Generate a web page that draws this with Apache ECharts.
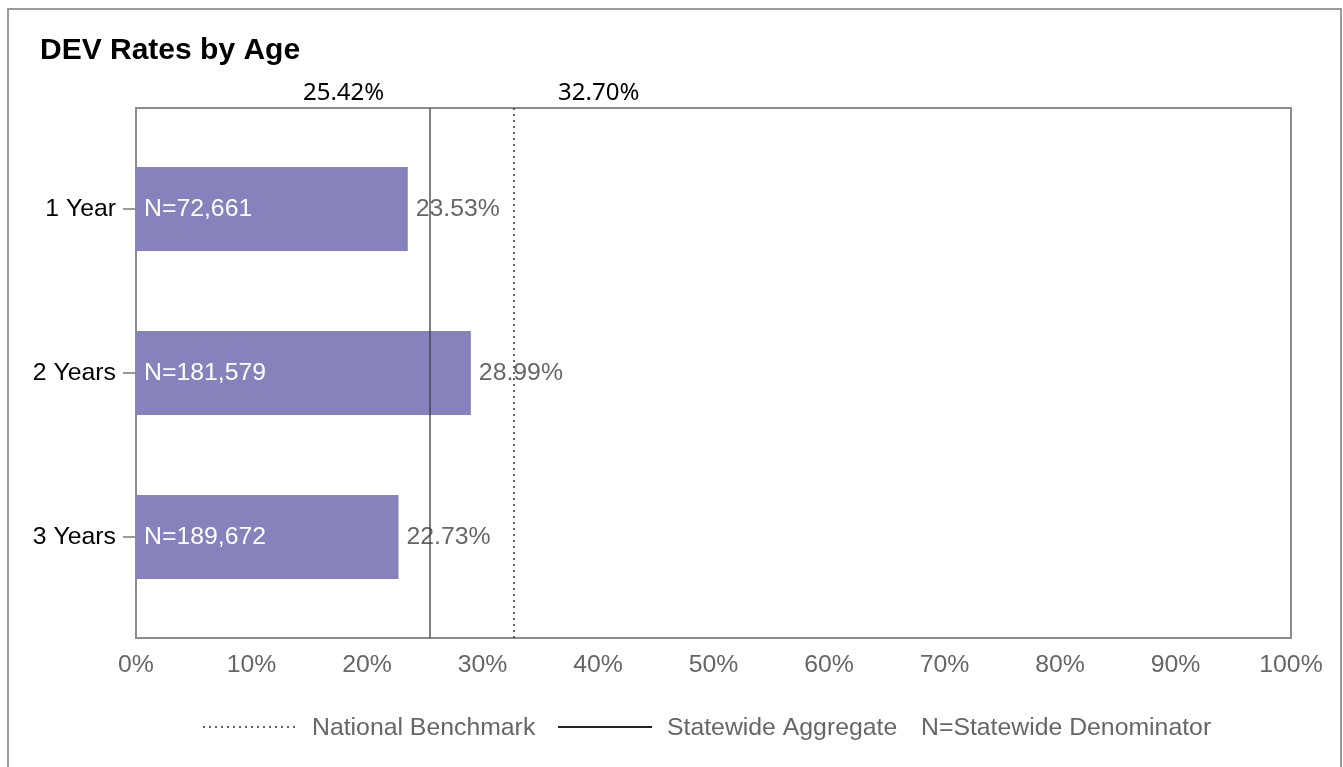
<!DOCTYPE html>
<html>
<head>
<meta charset="utf-8">
<script src="https://cdn.jsdelivr.net/npm/echarts@6/dist/echarts.min.js"></script>
<style>
html,body{margin:0;padding:0;background:#fff;}
#chart{width:1343px;height:767px;}
</style>
</head>
<body>
<div id="chart"></div>
<script>
const categories = ['1 Year', '2 Years', '3 Years'];
const rates = [23.53, 28.99, 22.73];
const denominators = [72661, 181579, 189672];
const statewideAggregate = 25.42;
const nationalBenchmark = 32.70;
const xMin = 0, xMax = 100, xStep = 10;

const SANS = '"Liberation Sans", Arial, sans-serif';
const NOTO = '"Noto Sans", "Open Sans", sans-serif';
const FS = 24.8;

const chart = echarts.init(document.getElementById('chart'), null, {renderer: 'canvas'});

const option = {
  animation: false,
  backgroundColor: '#fff',
  title: {
    text: 'DEV Rates by Age',
    left: 35, top: 31,
    textStyle: {fontFamily: SANS, fontWeight: 'bold', fontSize: 30, color: '#000'}
  },
  grid: [
    {left: 136, right: 52, top: 127, bottom: 148},
    {left: 136, right: 52, top: 108, bottom: 129, show: true, borderColor: '#8c8c8c', borderWidth: 2, backgroundColor: 'transparent', z: 1}
  ],
  xAxis: [
    {gridIndex: 0, type: 'value', min: xMin, max: xMax, interval: xStep, show: false},
    {gridIndex: 1, type: 'value', min: xMin, max: xMax, interval: xStep,
     axisLine: {show: false}, axisTick: {show: false}, splitLine: {show: false},
     axisLabel: {formatter: '{value}%', color: '#666', fontFamily: SANS, fontSize: FS, margin: 15}}
  ],
  yAxis: [
    {gridIndex: 0, type: 'category', data: categories, inverse: true,
     axisLine: {show: false},
     axisTick: {show: true, alignWithLabel: true, length: 13, lineStyle: {color: '#7a7a7a', width: 1.5}},
     axisLabel: {color: '#000', fontFamily: SANS, fontSize: FS, margin: 20, padding: [4, 0, 0, 0]}},
    {gridIndex: 1, type: 'value', min: 0, max: 1, show: false}
  ],
  series: [
    {
      type: 'bar', xAxisIndex: 0, yAxisIndex: 0,
      data: rates, barWidth: 84,
      itemStyle: {color: '#8682bc'},
      label: {show: true, position: 'insideLeft', distance: 8,
        formatter: p => 'N=' + denominators[p.dataIndex].toLocaleString('en-US'),
        color: '#fff', fontFamily: SANS, fontSize: FS, padding: [4, 0, 0, 0]},
      z: 2
    },
    {
      type: 'bar', xAxisIndex: 0, yAxisIndex: 0,
      data: rates, barWidth: 84, barGap: '-100%',
      itemStyle: {color: 'rgba(0,0,0,0)'},
      label: {show: true, position: 'right', distance: 8,
        formatter: p => p.value.toFixed(2) + '%',
        color: '#666', fontFamily: SANS, fontSize: FS, padding: [4, 0, 0, 0]},
      z: 3
    },
    {
      type: 'line', xAxisIndex: 1, yAxisIndex: 1, data: [],
      z: 5,
      markLine: {
        silent: true, symbol: ['none', 'none'],
        data: [
          {xAxis: statewideAggregate,
           lineStyle: {color: 'rgba(60,60,60,0.65)', width: 2, type: 'solid'},
           label: {show: true, position: 'end', offset: [-86, 0], distance: 3,
             formatter: statewideAggregate.toFixed(2) + '%', color: '#000', fontFamily: NOTO, fontSize: 24}},
          {xAxis: nationalBenchmark,
           lineStyle: {color: '#333', width: 1.5, type: [2, 4]},
           label: {show: true, position: 'end', offset: [85, 0], distance: 3,
             formatter: nationalBenchmark.toFixed(2) + '%', color: '#000', fontFamily: NOTO, fontSize: 24}}
        ]
      }
    }
  ],
  graphic: [
    {type: 'rect', shape: {x: 8, y: 9, width: 1333, height: 800}, style: {fill: 'none', stroke: '#9a9a9a', lineWidth: 2}, silent: true, z: -1},
    {type: 'line', shape: {x1: 203, y1: 727, x2: 298, y2: 727}, style: {stroke: '#333', lineWidth: 1.5, lineDash: [2, 4]}},
    {type: 'text', x: 312, y: 728, style: {text: 'National Benchmark', fill: '#666', font: FS + 'px ' + SANS, textVerticalAlign: 'middle'}},
    {type: 'line', shape: {x1: 558, y1: 727, x2: 652, y2: 727}, style: {stroke: '#222', lineWidth: 2}},
    {type: 'text', x: 667, y: 728, style: {text: 'Statewide Aggregate', fill: '#666', font: FS + 'px ' + SANS, textVerticalAlign: 'middle'}},
    {type: 'text', x: 921, y: 728, style: {text: 'N=Statewide Denominator', fill: '#666', font: FS + 'px ' + SANS, textVerticalAlign: 'middle'}}
  ]
};
chart.setOption(option);
</script>
</body>
</html>
